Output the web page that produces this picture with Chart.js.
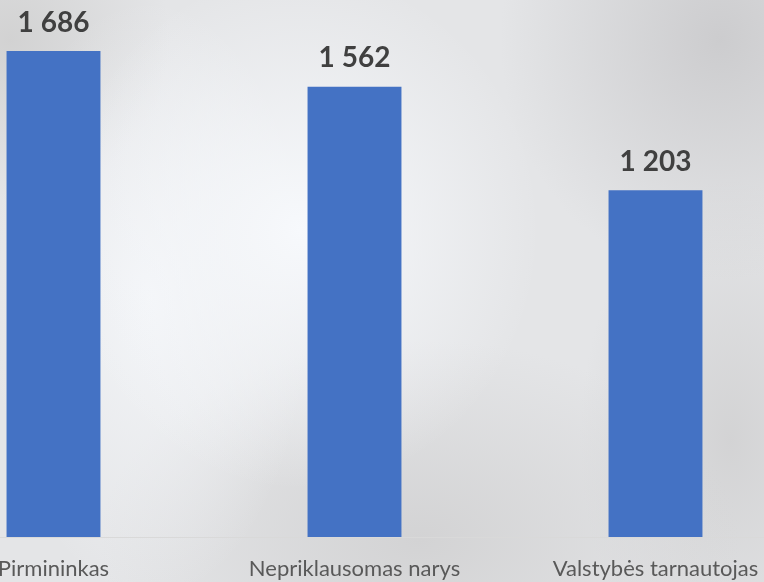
<!DOCTYPE html>
<html>
<head>
<meta charset="utf-8">
<script src="https://cdn.jsdelivr.net/npm/chart.js@4"></script>
<style>
  html, body { margin:0; padding:0; width:764px; height:582px; overflow:hidden; }
  body {
    position: relative;
    background:
      radial-gradient(ellipse 240px 260px at 300px 230px, rgba(247,249,252,1), rgba(247,249,252,0) 100%),
      radial-gradient(ellipse 160px 300px at 150px 300px, rgba(244,246,249,0.9), rgba(244,246,249,0) 100%),
      radial-gradient(ellipse 220px 240px at 720px 40px, rgba(203,203,205,0.95), rgba(203,203,205,0) 100%),
      radial-gradient(ellipse 160px 160px at 10px 40px, rgba(208,208,208,0.9), rgba(208,208,208,0) 100%),
      radial-gradient(ellipse 320px 200px at 420px 540px, rgba(210,210,211,0.95), rgba(210,210,211,0) 100%),
      radial-gradient(ellipse 150px 260px at 730px 440px, rgba(208,208,209,0.85), rgba(208,208,209,0) 100%),
      #e4e5e7;
  }
  #wrap { position:absolute; left:-97.5px; top:0; width:903px; height:582px; }
</style>
</head>
<body>
<div id="wrap"><canvas id="c"></canvas></div>
<script>
const categories = ["Pirmininkas", "Nepriklausomas narys", "Valstybės tarnautojas"];
const values = [1686, 1562, 1203];

const valueLabels = {
  id: 'valueLabels',
  afterDatasetsDraw(chart) {
    const ctx = chart.ctx;
    const meta = chart.getDatasetMeta(0);
    ctx.save();
    ctx.font = "bold 28px Lato";
    ctx.fillStyle = "#404040";
    ctx.textAlign = "center";
    ctx.textBaseline = "alphabetic";
    meta.data.forEach((bar, i) => {
      const txt = values[i].toLocaleString('lt-LT').replace(/\s/g, ' ');
      ctx.fillText(txt, bar.x, bar.y - 19.5);
    });
    ctx.restore();
  }
};

new Chart(document.getElementById('c'), {
  type: 'bar',
  data: {
    labels: categories,
    datasets: [{
      data: values,
      backgroundColor: '#4472C4',
      borderWidth: 0,
      categoryPercentage: 1,
      barPercentage: 0.312
    }]
  },
  options: {
    responsive: true,
    maintainAspectRatio: false,
    animation: false,
    layout: { padding: 0 },
    plugins: { legend: { display: false }, tooltip: { enabled: false } },
    scales: {
      x: {
        grid: { display: false, drawTicks: false },
        border: { display: true, color: '#d9d9d9', width: 1 },
        ticks: { color: '#595959', font: { family: 'Lato', size: 22 }, padding: 19, maxRotation: 0, autoSkip: false },
        afterFit(scale) { scale.height = 45; }
      },
      y: {
        display: false,
        min: 0,
        max: 1863
      }
    }
  },
  plugins: [valueLabels]
});
</script>
</body>
</html>
